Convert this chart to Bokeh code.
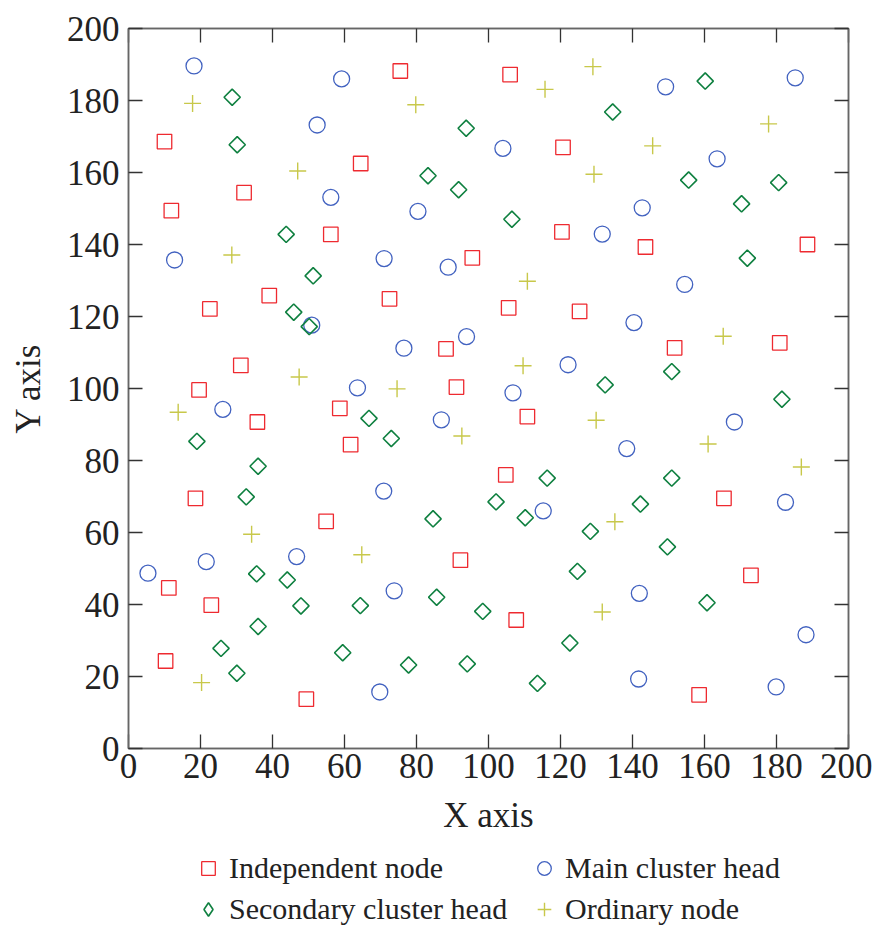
from bokeh.plotting import figure
from bokeh.layouts import column
from bokeh.models import Range1d, LinearAxis, Legend, LegendItem, FixedTicker, CustomJSTickFormatter
from bokeh.embed import file_html
from bokeh.resources import INLINE

# ---- data ----
ind_x = [10.0, 11.9, 22.6, 32.1, 39.1, 19.6, 31.2, 35.8, 18.6, 11.2, 23.0, 10.3, 49.4, 54.9, 58.7, 61.7,
         56.2, 64.5, 75.5, 72.5, 88.2, 95.5, 91.1, 92.2, 106.0, 120.7, 120.4, 105.6, 125.3, 110.8, 104.8,
         107.7, 143.6, 188.6, 151.7, 180.9, 165.4, 172.9, 158.5]
ind_y = [168.6, 149.4, 122.1, 154.4, 125.8, 99.6, 106.4, 90.7, 69.5, 44.6, 39.8, 24.3, 13.7, 63.1, 94.5, 84.4,
         142.8, 162.5, 188.2, 124.9, 111.0, 136.3, 100.4, 52.3, 187.2, 167.0, 143.5, 122.4, 121.4, 92.2, 76.0,
         35.7, 139.3, 140.0, 111.3, 112.7, 69.5, 48.1, 14.9]

main_x = [18.2, 59.2, 52.4, 56.2, 12.8, 50.9, 26.2, 63.6, 5.4, 21.6, 46.7, 71.0, 88.8, 80.4, 104.0, 93.9,
          76.5, 122.1, 106.8, 86.9, 70.9, 115.2, 73.8, 69.8, 149.2, 185.2, 163.5, 142.7, 131.6, 154.5,
          140.4, 168.3, 138.4, 182.5, 141.9, 188.2, 141.7, 179.9]
main_y = [189.6, 186.0, 173.2, 153.1, 135.7, 117.6, 94.2, 100.2, 48.7, 51.9, 53.3, 136.1, 133.7, 149.2, 166.7,
          114.4, 111.2, 106.6, 98.8, 91.3, 71.5, 66.0, 43.8, 15.7, 183.8, 186.3, 163.8, 150.2, 142.9, 128.9,
          118.3, 90.7, 83.3, 68.4, 43.1, 31.6, 19.3, 17.1]

sec_x = [28.8, 30.2, 43.8, 51.3, 45.9, 50.2, 66.8, 19.0, 36.0, 32.7, 93.8, 83.2, 91.7, 106.5, 134.5, 160.2,
         155.6, 180.6, 170.3, 171.9, 132.4, 150.9, 181.5, 73.0, 116.3, 102.1, 150.9, 142.2, 84.6, 110.2,
         128.3, 124.7, 85.6, 98.4, 122.6, 77.8, 94.1, 113.6, 149.7, 160.7, 35.6, 44.1, 47.9, 64.4, 36.0,
         25.7, 59.5, 30.1]
sec_y = [180.9, 167.7, 142.8, 131.3, 121.2, 117.2, 91.7, 85.3, 78.4, 69.9, 172.3, 159.1, 155.2, 147.0, 176.8,
         185.4, 157.9, 157.2, 151.3, 136.2, 101.0, 104.7, 97.0, 86.1, 75.1, 68.5, 75.1, 67.9, 63.8, 64.1,
         60.3, 49.2, 42.0, 38.1, 29.3, 23.2, 23.5, 18.1, 56.0, 40.5, 48.5, 46.8, 39.6, 39.7, 33.9, 27.8,
         26.6, 20.9]

ord_x = [17.8, 47.0, 28.7, 47.4, 13.8, 34.2, 64.8, 20.3, 79.8, 115.7, 129.0, 129.3, 110.8, 109.6, 74.6,
         92.6, 129.9, 135.1, 131.6, 145.6, 177.8, 165.2, 161.0, 186.9]
ord_y = [179.2, 160.4, 137.1, 103.2, 93.4, 59.5, 53.8, 18.3, 178.8, 183.1, 189.4, 159.5, 129.8, 106.3, 99.9,
         86.8, 91.2, 63.0, 37.9, 167.4, 173.5, 114.5, 84.6, 78.2]

tick_vals = [0, 20, 40, 60, 80, 100, 120, 140, 160, 180, 200]
labels = ["Independent node", "Main cluster head", "Secondary cluster head", "Ordinary node"]

FONT = "Liberation Serif"
STYLES = [
    dict(marker="square", size=14.5, line_color="#EE2A30", line_width=1.3),
    dict(marker="circle", size=16, line_color="#4262C0", line_width=1.3),
    dict(marker="square", angle=45, angle_units="deg", size=11.5, line_color="#0F8040", line_width=1.6),
    dict(marker="cross", size=17, line_color="#C8C84A", line_width=1.4),
]
# legend swatches (legend glyphs are drawn unrotated, so use the diamond marker there)
LEG_STYLES = [
    dict(marker="square", line_color="#EE2A30", line_width=1.3),
    dict(marker="circle", line_color="#4262C0", line_width=1.3),
    dict(marker="diamond", line_color="#0F8040", line_width=1.6),
    dict(marker="cross", line_color="#C8C84A", line_width=1.4),
]
series = [(ind_x, ind_y), (main_x, main_y), (sec_x, sec_y), (ord_x, ord_y)]

p = figure(output_backend="svg", toolbar_location=None,
           frame_width=720, frame_height=720,
           x_range=Range1d(0, 200), y_range=Range1d(0, 200),
           min_border_left=128, min_border_top=28, min_border_right=24, min_border_bottom=92,
           background_fill_color="white", border_fill_color="white")
p.grid.visible = False
p.outline_line_color = "#666666"
p.outline_line_width = 1.5

for (xs, ys), st in zip(series, STYLES):
    p.scatter(xs, ys, fill_color=None, **st)

for ax in [p.xaxis[0], p.yaxis[0]]:
    ax.ticker = FixedTicker(ticks=tick_vals)
    ax.major_tick_in = 14
    ax.major_tick_out = 0
    ax.minor_tick_line_color = None
    ax.major_tick_line_color = "#333333"
    ax.major_tick_line_width = 1.3
    ax.axis_line_color = "#666666"
    ax.axis_line_width = 1.5
    ax.major_label_text_font = FONT
    ax.major_label_text_font_size = "35px"
    ax.major_label_text_color = "#222222"
    ax.axis_label_text_font = FONT
    ax.axis_label_text_font_size = "35px"
    ax.axis_label_text_font_style = "normal"
    ax.axis_label_text_color = "#222222"

p.xaxis[0].axis_label = "X axis"
p.yaxis[0].axis_label = "Y axis"
p.xaxis[0].major_label_standoff = 5
p.yaxis[0].major_label_standoff = 9
p.xaxis[0].axis_label_standoff = 15
p.yaxis[0].axis_label_standoff = 16

for side in ["above", "right"]:
    ax = LinearAxis(ticker=FixedTicker(ticks=tick_vals),
                    formatter=CustomJSTickFormatter(code="return ''"))
    ax.major_tick_in = 14
    ax.major_tick_out = 0
    ax.minor_tick_line_color = None
    ax.major_tick_line_color = "#333333"
    ax.major_tick_line_width = 1.3
    ax.axis_line_color = "#666666"
    ax.axis_line_width = 1.5
    ax.major_label_text_font_size = "1px"
    ax.major_label_standoff = 0
    p.add_layout(ax, side)

# legend strip below the plot (its renderers hold the same series, out of view)
q = figure(output_backend="svg", toolbar_location=None,
           frame_width=872, frame_height=88,
           x_range=Range1d(-20, -10), y_range=Range1d(-20, -10),
           x_axis_type=None, y_axis_type=None,
           min_border=0, outline_line_color=None,
           background_fill_color="white", border_fill_color="white")
q.grid.visible = False
lrs = [q.scatter(xs, ys, fill_color=None, **st) for (xs, ys), st in zip(series, LEG_STYLES)]

legend = Legend(items=[LegendItem(label=lab, renderers=[r]) for lab, r in zip(labels, lrs)],
                orientation="horizontal", nrows=2,
                location=(191, 0),
                label_text_font=FONT, label_text_font_size="30px", label_text_color="#222222",
                glyph_width=34, glyph_height=38, label_standoff=4, label_width=295, spacing=3,
                padding=0, margin=0, border_line_color=None, background_fill_alpha=0)
q.add_layout(legend, "center")

layout = column(p, q, spacing=0)
open("out.html", "w").write(file_html(layout, INLINE))
